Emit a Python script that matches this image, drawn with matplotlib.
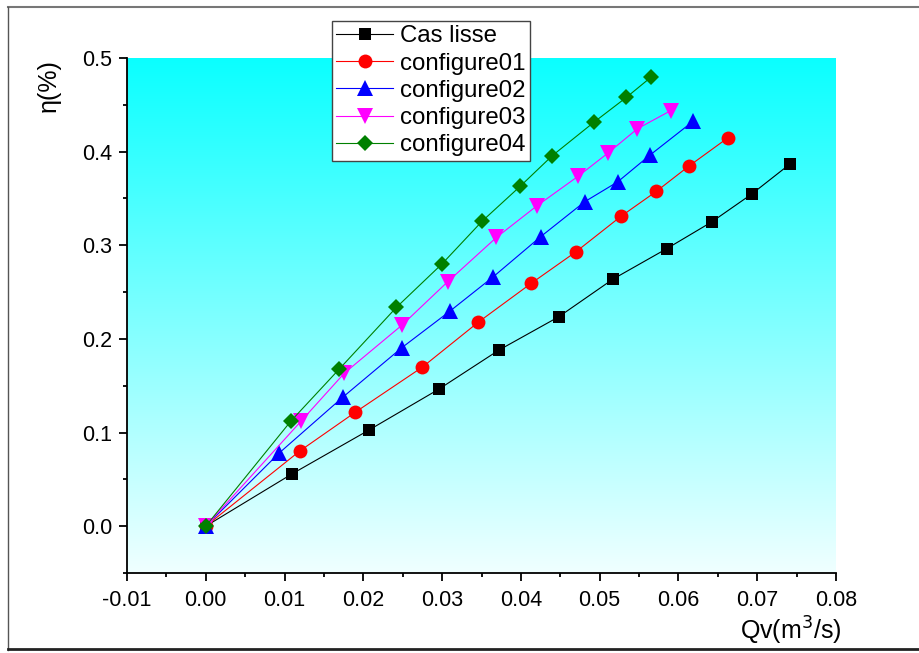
import numpy as np
import matplotlib
matplotlib.use("Agg")
import matplotlib.pyplot as plt
from matplotlib.lines import Line2D
from matplotlib.ticker import MultipleLocator, FormatStrFormatter

plt.rcParams['font.family'] = ['Liberation Sans', 'DejaVu Sans']

# Débit volumique Qv (m3/s) et rendement pour chaque cas
qv_lisse = [0, 0.0109, 0.0207, 0.0296, 0.0372, 0.0448, 0.0517, 0.0585, 0.0642, 0.0693, 0.0741]
eta_lisse = [0, 0.0556, 0.1026, 0.1464, 0.1880, 0.2236, 0.2639, 0.2963, 0.3248, 0.3547, 0.3864]

qv_conf01 = [0, 0.0119, 0.0190, 0.0275, 0.0346, 0.0413, 0.0470, 0.0527, 0.0572, 0.0613, 0.0663]
eta_conf01 = [0, 0.0801, 0.1218, 0.1699, 0.2179, 0.2593, 0.2931, 0.3309, 0.3576, 0.3844, 0.4149]

qv_conf02 = [0, 0.0093, 0.0174, 0.0249, 0.0310, 0.0365, 0.0425, 0.0481, 0.0523, 0.0564, 0.0619]
eta_conf02 = [0, 0.0780, 0.1378, 0.1907, 0.2297, 0.2664, 0.3091, 0.3465, 0.3678, 0.3964, 0.4327]

qv_conf03 = [0, 0.0121, 0.0176, 0.0249, 0.0307, 0.0369, 0.0420, 0.0473, 0.0511, 0.0548, 0.0590]
eta_conf03 = [0, 0.1122, 0.1635, 0.2147, 0.2610, 0.3084, 0.3419, 0.3739, 0.3988, 0.4245, 0.4437]

qv_conf04 = [0, 0.0108, 0.0169, 0.0242, 0.0300, 0.0351, 0.0399, 0.0440, 0.0493, 0.0534, 0.0565]
eta_conf04 = [0, 0.1122, 0.1674, 0.2337, 0.2802, 0.3259, 0.3629, 0.3958, 0.4316, 0.4580, 0.4794]

series = [
    ("Cas lisse", qv_lisse, eta_lisse, "black", "s", 8.6),
    ("configure01", qv_conf01, eta_conf01, "red", "o", 10),
    ("configure02", qv_conf02, eta_conf02, "blue", "^", 11),
    ("configure03", qv_conf03, eta_conf03, "magenta", "v", 11),
    ("configure04", qv_conf04, eta_conf04, "green", "D", 8.2),
]

fig = plt.figure(figsize=(9.19, 6.53), dpi=100)
ax = fig.add_axes([127/919, 1-573/653, (836-127)/919, (573-58)/653])

xmin, xmax, ymin, ymax = -0.01, 0.08, -0.05, 0.5

# fond dégradé cyan -> blanc
n = 256
t = np.linspace(0, 1, n)[:, None]
top = np.array([0.04, 1.0, 1.0])
bot = np.array([0.94, 1.0, 1.0])
grad = (top * (1 - t) + bot * t)[:, None, :].repeat(2, axis=1)
ax.imshow(grad, extent=[xmin, xmax, ymin, ymax], aspect='auto', origin='upper', zorder=0)

for name, x, y, c, m, ms in series:
    ax.plot(x, y, color=c, marker=m, markersize=ms, linewidth=0.8,
            markeredgewidth=0, label=name, zorder=3)

ax.set_xlim(xmin, xmax)
ax.set_ylim(ymin, ymax)

ax.xaxis.set_major_locator(MultipleLocator(0.01))
ax.xaxis.set_minor_locator(MultipleLocator(0.005))
ax.yaxis.set_major_locator(MultipleLocator(0.1))
ax.yaxis.set_minor_locator(MultipleLocator(0.05))
ax.xaxis.set_major_formatter(FormatStrFormatter('%.2f'))
ax.yaxis.set_major_formatter(FormatStrFormatter('%.1f'))
ax.set_yticks([0.0, 0.1, 0.2, 0.3, 0.4, 0.5])

for s in ['top', 'right']:
    ax.spines[s].set_visible(False)
for s in ['left', 'bottom']:
    ax.spines[s].set_linewidth(1.3)

ax.tick_params(which='major', direction='out', length=5.5, width=1.3, labelsize=15.5, pad=5)
ax.tick_params(which='minor', direction='out', length=3, width=1.3)
ax.tick_params(axis='x', which='major', pad=7)

ax.set_xlabel("Qv(m$^3$/s)", fontsize=18)
ax.xaxis.set_label_coords(0.9365, -0.1126)
ax.set_ylabel("η(%)", fontsize=18)
ax.yaxis.set_label_coords(-0.1107, 0.9456)
ax.xaxis.label.set_verticalalignment('center')
ax.yaxis.label.set_verticalalignment('center')

leg = ax.legend(loc='upper left', bbox_to_anchor=(332/919, 1-21/653),
                bbox_transform=fig.transFigure, fontsize=17.3, frameon=True,
                fancybox=False, framealpha=1, edgecolor='#444444',
                borderpad=0.18, labelspacing=0.22, handlelength=2.35,
                handletextpad=0.3, borderaxespad=0)
leg.get_frame().set_linewidth(1.0)

# cadre extérieur
fig.add_artist(Line2D([8/919, 1], [1-7/653, 1-7/653], color='#777777', linewidth=1.5))
fig.add_artist(Line2D([8/919, 8/919], [1-7/653, 1-650/653], color='#555555', linewidth=1.0))
fig.add_artist(Line2D([8/919, 1], [1-649/653, 1-649/653], color='#222222', linewidth=2.0))

fig.savefig("out.png", dpi=100)
